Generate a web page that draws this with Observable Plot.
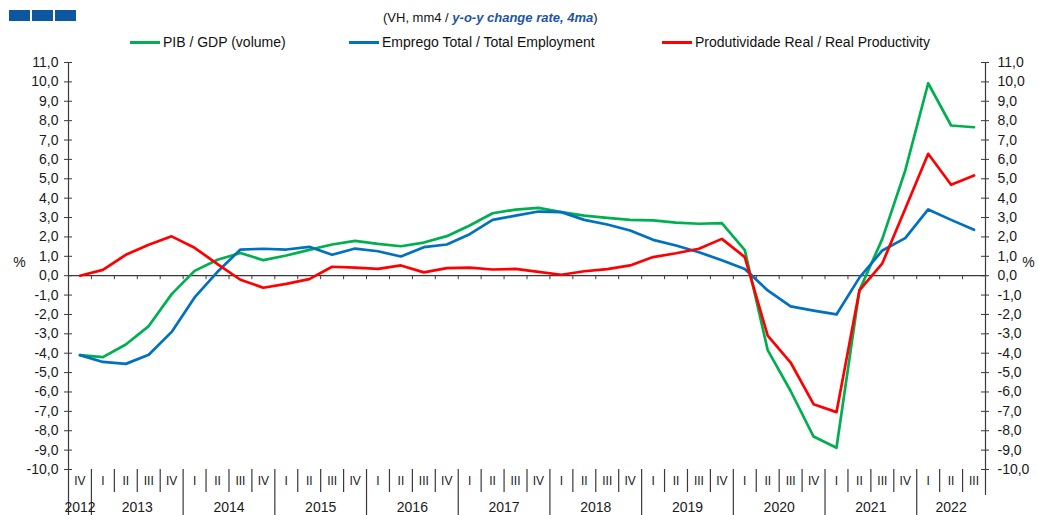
<!DOCTYPE html>
<html>
<head>
<meta charset="utf-8">
<script src="https://cdn.jsdelivr.net/npm/d3@7"></script>
<script src="https://cdn.jsdelivr.net/npm/@observablehq/plot@0.6"></script>
<style>
  body { margin: 0; background: #fff; font-family: "Liberation Sans", Arial, sans-serif; }
  #wrap { position: relative; width: 1038px; height: 515px; overflow: hidden; }
  #head { position: relative; height: 52px; }
  .logo { position: absolute; top: 10px; width: 21px; height: 11px; background: #0d56a0; }
  #sub { position: absolute; top: 10px; left: 383px; font-size: 13px; color: #111; white-space: nowrap; }
  #sub b { color: #1d55a5; font-style: italic; }
  .lg { position: absolute; top: 34px; font-size: 14px; color: #111; white-space: nowrap; display: flex; align-items: center; }
  .sw { display: inline-block; width: 30px; height: 3px; margin-right: 3px; }
</style>
</head>
<body>
<div id="wrap">
  <div id="head">
    <div class="logo" style="left:9px"></div>
    <div class="logo" style="left:32px"></div>
    <div class="logo" style="left:55px"></div>
    <div id="sub">(VH, mm4 / <b>y-o-y change rate, 4ma</b>)</div>
    <div id="legend"></div>
  </div>
  <div id="chart"></div>
</div>
<script>
// ---- data ----
const periods = [
  "2012 IV",
  "2013 I","2013 II","2013 III","2013 IV",
  "2014 I","2014 II","2014 III","2014 IV",
  "2015 I","2015 II","2015 III","2015 IV",
  "2016 I","2016 II","2016 III","2016 IV",
  "2017 I","2017 II","2017 III","2017 IV",
  "2018 I","2018 II","2018 III","2018 IV",
  "2019 I","2019 II","2019 III","2019 IV",
  "2020 I","2020 II","2020 III","2020 IV",
  "2021 I","2021 II","2021 III","2021 IV",
  "2022 I","2022 II","2022 III"
];
const gdp = [
  -4.1,
  -4.2, -3.55, -2.6, -0.95,
  0.25, 0.82, 1.17, 0.8,
  1.04, 1.33, 1.61, 1.8,
  1.64, 1.52, 1.71, 2.04,
  2.59, 3.22, 3.41, 3.5,
  3.28, 3.1, 2.98, 2.88,
  2.85, 2.74, 2.68, 2.71,
  1.32, -3.84, -5.95, -8.3,
  -8.88, -0.76, 1.9, 5.43,
  9.93, 7.75, 7.66
];
const employment = [
  -4.1,
  -4.45, -4.55, -4.08, -2.9,
  -1.12, 0.2, 1.35, 1.39,
  1.35, 1.49, 1.08, 1.4,
  1.26, 0.99, 1.47, 1.61,
  2.14, 2.88, 3.1, 3.31,
  3.28, 2.88, 2.64, 2.33,
  1.85, 1.56, 1.21, 0.8,
  0.34, -0.76, -1.58, -1.8,
  -2.0, -0.1, 1.3, 1.94,
  3.42, 2.88, 2.37
];
const productivity = [
  0.0,
  0.3, 1.08, 1.6, 2.03,
  1.44, 0.6, -0.21, -0.62,
  -0.42, -0.18, 0.46, 0.42,
  0.35, 0.53, 0.17, 0.39,
  0.42, 0.32, 0.35, 0.2,
  0.05, 0.23, 0.34, 0.53,
  0.96, 1.16, 1.39, 1.9,
  0.96, -3.09, -4.48, -6.63,
  -7.04, -0.76, 0.64, 3.45,
  6.29, 4.69, 5.17
];
const seriesNames = ["PIB / GDP (volume)", "Emprego Total / Total Employment", "Produtividade Real / Real Productivity"];
const seriesColors = ["#00b050", "#0070c0", "#ff0000"];
const yTicks = [-10,-9,-8,-7,-6,-5,-4,-3,-2,-1,0,1,2,3,4,5,6,7,8,9,10,11];

// ---- derived tables ----
const n = periods.length;
const rows = periods.map((p, i) => {
  const [year, q] = p.split(" ");
  return {i, year, q, gdp: gdp[i], emp: employment[i], prod: productivity[i]};
});
const yearGroups = d3.groups(rows, d => d.year).map(([year, rs]) => ({year, center: d3.mean(rs, r => r.i)}));
const bounds = d3.range(n + 1).map(k => k - 0.5);
const isYearStart = b => b === -0.5 || (b + 0.5 < n && rows[b + 0.5].q === "I");
const yearBounds = bounds.filter(b => b < n - 0.5 && isYearStart(b));
const quarterBounds = bounds.filter(b => b < n - 0.5 && !isYearStart(b));
const endBound = [n - 0.5];
const innerBounds = bounds.slice(1, -1);
const yMin = d3.min(yTicks), yMax = d3.max(yTicks);
const fmt = d => d.toFixed(1).replace(".", ",");

// ---- legend ----
const legendPos = [130, 349, 662];
const legend = document.getElementById("legend");
seriesNames.forEach((name, k) => {
  const el = document.createElement("div");
  el.className = "lg";
  el.style.left = legendPos[k] + "px";
  el.innerHTML = `<span class="sw" style="background:${seriesColors[k]}"></span>${name}`;
  legend.appendChild(el);
});

const axisColor = "#3a3a3a";
const chart = Plot.plot({
  width: 1038,
  height: 463,
  marginLeft: 68,
  marginRight: 53,
  marginTop: 10,
  marginBottom: 46,
  x: {type: "linear", domain: [-0.5, n - 0.5], axis: null},
  y: {domain: [yMin, yMax], axis: null},
  style: {fontFamily: "'Liberation Sans', Arial, sans-serif", fontSize: "14px", color: "#1a1a1a", background: "white", overflow: "visible"},
  marks: [
    // axis lines
    Plot.ruleX([-0.5].concat(endBound), {stroke: axisColor, strokeWidth: 1.2}),
    Plot.ruleY(yTicks, {y: d => d, x1: -0.5, x2: -0.5, insetLeft: -4, insetRight: -4, stroke: axisColor}),
    Plot.ruleY(yTicks, {y: d => d, x1: n - 0.5, x2: n - 0.5, insetLeft: -4, insetRight: -4, stroke: axisColor}),
    Plot.text(yTicks, {y: d => d, text: fmt, frameAnchor: "left", dx: -10, textAnchor: "end", fontSize: 14}),
    Plot.text(yTicks, {y: d => d, text: fmt, frameAnchor: "right", dx: 12, textAnchor: "start", fontSize: 14}),
    Plot.text(["%"], {frameAnchor: "left", dx: -49, dy: -3, textAnchor: "middle", fontSize: 14}),
    Plot.text(["%"], {frameAnchor: "right", dx: 43, dy: -3, textAnchor: "middle", fontSize: 14}),
    // zero line + small ticks
    Plot.ruleY([0], {stroke: axisColor, strokeWidth: 1.2}),
    Plot.ruleX(innerBounds, {x: d => d, y1: 0, y2: 0, insetBottom: -4, stroke: axisColor}),
    // bottom category separators
    Plot.ruleX(quarterBounds, {x: d => d, y1: yMin, y2: yMin, insetBottom: -23, stroke: axisColor, strokeWidth: 1.2}),
    Plot.ruleX(yearBounds, {x: d => d, y1: yMin, y2: yMin, insetBottom: -48, stroke: axisColor, strokeWidth: 1.2}),
    Plot.ruleX(endBound, {x: d => d, y1: yMin, y2: yMin, insetBottom: -26, stroke: axisColor, strokeWidth: 1.2}),
    Plot.text(rows, {x: "i", text: "q", frameAnchor: "bottom", dy: 12, lineAnchor: "middle", fontSize: 12}),
    Plot.text(yearGroups, {x: "center", text: "year", frameAnchor: "bottom", dy: 38, lineAnchor: "middle", fontSize: 14}),
    // series
    Plot.lineY(rows, {x: "i", y: "gdp", stroke: seriesColors[0], strokeWidth: 2.7}),
    Plot.lineY(rows, {x: "i", y: "emp", stroke: seriesColors[1], strokeWidth: 2.7}),
    Plot.lineY(rows, {x: "i", y: "prod", stroke: seriesColors[2], strokeWidth: 2.7})
  ]
});
document.getElementById("chart").appendChild(chart);
</script>
</body>
</html>
